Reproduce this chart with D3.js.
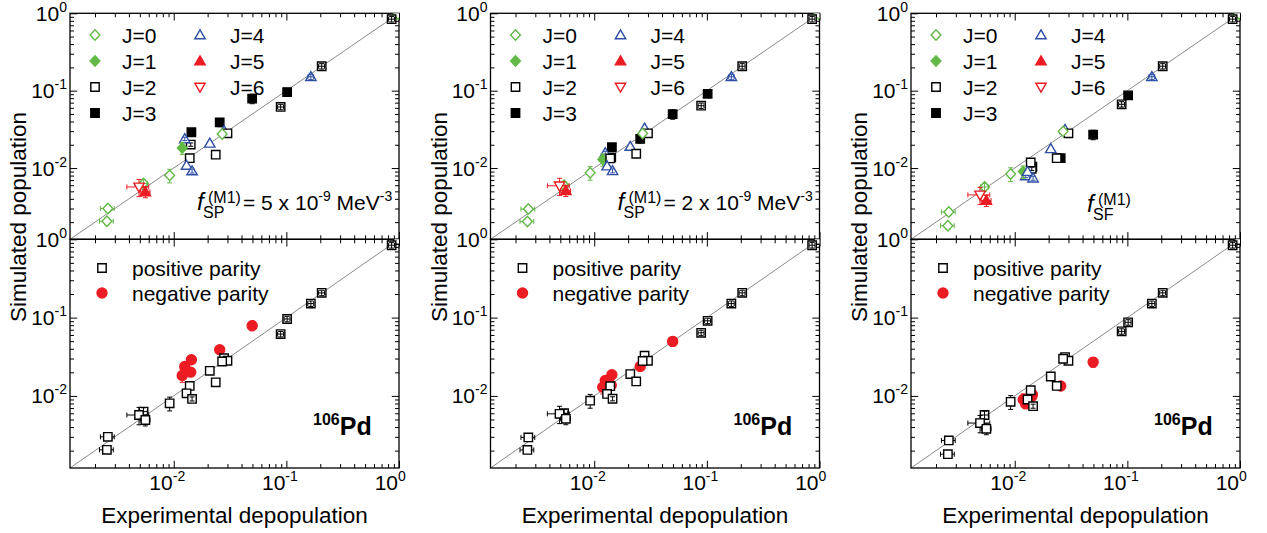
<!DOCTYPE html>
<html>
<head>
<meta charset="utf-8">
<script src="https://cdn.jsdelivr.net/npm/d3@7"></script>
<style>
  body { margin: 0; background: #fff; }
  text { font-family: 'Liberation Sans', Arial, Helvetica, sans-serif; fill: #000; }
</style>
</head>
<body>
<svg id="chart" width="1267" height="533"></svg>
<script>
// levels of 106Pd: experimental depopulation, spin and parity
var expDepop = [0.98, 0.86, 0.206, 0.165, 0.1016, 0.089, 0.0497, 0.0256, 0.028, 0.030, 0.0269, 0.01435, 0.01416,
  0.01253, 0.0119, 0.01387, 0.0209, 0.0236, 0.0130, 0.01455, 0.0092, 0.0054, 0.00492, 0.0056, 0.0026, 0.00255]
var spins = [0, 2, 2, 4, 3, 2, 3, 3, 4, 2, 0, 3, 2, 4, 1, 2, 4, 2, 4, 4, 0, 0, 6, 5, 0, 0]
var parities = ['+', '+', '+', '+', '+', '+', '-', '-', '+', '+', '+', '-', '-', '-', '-', '+', '+', '+', '+', '+',
  '+', '+', '+', '+', '+', '+']

// simulated population for the three M1 strength functions
var simSP5 = [0.98, 0.84, 0.207, 0.151, 0.096, 0.0616, 0.0789, 0.0389, 0.0303, 0.0281, 0.0275, 0.029, 0.0201,
  0.0238, 0.0182, 0.0134, 0.0209, 0.0149, 0.0108, 0.00916, 0.00804, 0.0063, 0.0057, 0.00492, 0.0030, 0.00205]
var simSP2 = [0.98, 0.84, 0.207, 0.151, 0.091, 0.064, 0.0497, 0.0238, 0.0326, 0.0281, 0.028, 0.0186, 0.0137,
  0.0157, 0.0129, 0.0133, 0.019, 0.0153, 0.0106, 0.0092, 0.0087, 0.006, 0.0059, 0.0051, 0.00295, 0.00204]
var simSF = [0.98, 0.84, 0.207, 0.151, 0.087, 0.0667, 0.027, 0.0134, 0.0313, 0.0281, 0.0298, 0.0104, 0.0098,
  0.0079, 0.009, 0.0118, 0.0177, 0.0134, 0.009, 0.0074, 0.0084, 0.0057, 0.0045, 0.0038, 0.0027, 0.0018]

// relative uncertainties (experiment on x, simulation on y)
var expErr = [0, 0.06, 0.06, 0.06, 0.06, 0.06, 0.07, 0.04, 0, 0, 0, 0.03, 0, 0, 0, 0, 0, 0, 0, 0, 0, 0.08, 0.22,
  0.1, 0.14, 0.14]
var simErr = [0, 0.08, 0.08, 0.08, 0.08, 0.08, 0.14, 0.12, 0, 0, 0, 0.1, 0.05, 0.05, 0.18, 0, 0, 0, 0, 0.06, 0.2,
  0.12, 0.25, 0.16, 0.1, 0.1]

var simSets = [simSP5, simSP2, simSF]
var strengthValues = ['5', '2', null]
var strengthSubs = ['SP', 'SP', 'SF']

var spinLabels = ['J=0', 'J=1', 'J=2', 'J=3', 'J=4', 'J=5', 'J=6']
var parityLabels = ['positive parity', 'negative parity']
var tickExponents = [0, -1, -2]

var green = '#62b946'
var blue = '#2e4fa3'
var red = '#ec1c24'

// marker style for each spin
var spinStyle = {
  0: { shape: 'diamond', color: green, filled: false },
  1: { shape: 'diamond', color: green, filled: true },
  2: { shape: 'square', color: '#000', filled: false },
  3: { shape: 'square', color: '#000', filled: true },
  4: { shape: 'triUp', color: blue, filled: false },
  5: { shape: 'triUp', color: red, filled: true },
  6: { shape: 'triDown', color: red, filled: false }
}
var parityStyle = {
  '+': { shape: 'square', color: '#000', filled: false },
  '-': { shape: 'circle', color: red, filled: true }
}

var lefts = [70, 490.5, 911]
var plotW = 329
var topY = 13.3
var midY = 239.3
var botY = 468
var lo = 0.0012
var half = 4.2

var svg = d3.select('#chart')
var defs = svg.append('defs')

function markerPath (shape) {
  if (shape === 'square') return 'M-4.2,-4.2H4.2V4.2H-4.2Z'
  if (shape === 'diamond') return 'M0,-5.2L4.9,0L0,5.2L-4.9,0Z'
  if (shape === 'triUp') return 'M0,-5.2L5.2,3.8L-5.2,3.8Z'
  if (shape === 'triDown') return 'M0,5.2L5.2,-3.8L-5.2,-3.8Z'
  var r = 5
  return 'M' + (-r) + ',0A' + r + ',' + r + ' 0 1,0 ' + r + ',0A' + r + ',' + r + ' 0 1,0 ' + (-r) + ',0Z'
}

function drawMarker (g, cx, cy, style) {
  g.append('path')
    .attr('d', markerPath(style.shape))
    .attr('transform', 'translate(' + cx + ',' + cy + ')')
    .attr('fill', style.filled ? style.color : '#fff')
    .attr('stroke', style.color)
    .attr('stroke-width', 1.4)
}

function drawFrame (x, y, id) {
  var x0 = x.range()[0]
  var x1 = x.range()[1]
  var y0 = y.range()[0]
  var y1 = y.range()[1]
  var g = svg.append('g')

  defs.append('clipPath').attr('id', id)
    .append('rect').attr('x', x0).attr('y', y1).attr('width', x1 - x0).attr('height', y0 - y1)

  g.append('line')
    .attr('x1', x(lo)).attr('y1', y(lo)).attr('x2', x(1)).attr('y2', y(1))
    .attr('stroke', '#8a8a8a').attr('stroke-width', 1)

  var isMajor = function (v) {
    var l = Math.log10(v)
    return Math.abs(l - Math.round(l)) < 1e-6
  }
  var xt = x.ticks().filter(function (v) { return v >= lo })
  var yt = y.ticks().filter(function (v) { return v >= lo })
  var axes = [
    [d3.axisBottom(x).tickValues(xt), 'translate(0,' + y0 + ')', 'y2'],
    [d3.axisTop(x).tickValues(xt), 'translate(0,' + y1 + ')', 'y2'],
    [d3.axisLeft(y).tickValues(yt), 'translate(' + x0 + ',0)', 'x2'],
    [d3.axisRight(y).tickValues(yt), 'translate(' + x1 + ',0)', 'x2']
  ]
  axes.forEach(function (a) {
    var ag = g.append('g').attr('transform', a[1])
      .call(a[0].tickSize(-4).tickFormat(''))
    ag.select('.domain').remove()
    ag.selectAll('.tick line')
      .attr('stroke-width', 1)
      .filter(function (d) { return isMajor(d) })
      .attr(a[2], function () { return +this.getAttribute(a[2]) * 1.8 })
  })

  g.append('rect')
    .attr('x', x0).attr('y', y1).attr('width', x1 - x0).attr('height', y0 - y1)
    .attr('fill', 'none').attr('stroke', '#000').attr('stroke-width', 1.3)
  return g
}

function drawBars (g, x, y, i, s, color) {
  var e = expDepop[i]
  var cx = x(e)
  var cy = y(s)
  var bars = g.append('g').attr('stroke', color).attr('stroke-width', 1)
  if (expErr[i] > 0) {
    var xa = x(e * (1 - expErr[i]))
    var xb = x(e * (1 + expErr[i]))
    bars.append('line').attr('x1', xa).attr('x2', xb).attr('y1', cy).attr('y2', cy)
    bars.append('line').attr('x1', xa).attr('x2', xa).attr('y1', cy - 2.5).attr('y2', cy + 2.5)
    bars.append('line').attr('x1', xb).attr('x2', xb).attr('y1', cy - 2.5).attr('y2', cy + 2.5)
  }
  if (simErr[i] > 0) {
    var ya = y(s * (1 + simErr[i]))
    var yb = y(s * (1 - simErr[i]))
    bars.append('line').attr('x1', cx).attr('x2', cx).attr('y1', ya).attr('y2', yb)
    bars.append('line').attr('x1', cx - 2.5).attr('x2', cx + 2.5).attr('y1', ya).attr('y2', ya)
    bars.append('line').attr('x1', cx - 2.5).attr('x2', cx + 2.5).attr('y1', yb).attr('y2', yb)
  }
}

function drawPoints (x, y, sim, styleOf, id) {
  var g = svg.append('g').attr('clip-path', 'url(#' + id + ')')
  expDepop.forEach(function (e, i) {
    var s = sim[i]
    var st = styleOf(i)
    // bars that stay inside the marker show on top of it, longer ones sit behind
    var hx = x(e * (1 + expErr[i])) - x(e)
    var hy = y(s) - y(s * (1 + simErr[i]))
    var inside = Math.max(hx, hy) < half
    if (!inside) drawBars(g, x, y, i, s, st.color)
    drawMarker(g, x(e), y(s), st)
    if (inside) drawBars(g, x, y, i, s, st.color)
  })
}

function yTickLabels (left, y) {
  tickExponents.forEach(function (p) {
    var t = svg.append('text')
      .attr('x', left - 3).attr('y', y(Math.pow(10, p)) + 7.5)
      .attr('text-anchor', 'end').attr('font-size', 21)
    t.append('tspan').text('10')
    t.append('tspan').attr('dy', -9).attr('font-size', 14).text(String(p))
  })
}

function xTickLabels (x) {
  tickExponents.forEach(function (p) {
    var tx = x(Math.pow(10, p))
    svg.append('text').attr('x', tx - 1).attr('y', 490)
      .attr('text-anchor', 'end').attr('font-size', 21).text('10')
    svg.append('text').attr('x', tx - 1).attr('y', 481)
      .attr('font-size', 14).text(String(p))
  })
}

lefts.forEach(function (left, k) {
  var x = d3.scaleLog().domain([lo, 1]).range([left, left + plotW])
  var yTop = d3.scaleLog().domain([lo, 1]).range([midY, topY])
  var yBot = d3.scaleLog().domain([lo, 1]).range([botY, midY])
  var sim = simSets[k]

  drawFrame(x, yTop, 'clipTop' + k)
  drawFrame(x, yBot, 'clipBot' + k)
  drawPoints(x, yTop, sim, function (i) { return spinStyle[spins[i]] }, 'clipTop' + k)
  drawPoints(x, yBot, sim, function (i) { return parityStyle[parities[i]] }, 'clipBot' + k)

  yTickLabels(left, yTop)
  yTickLabels(left, yBot)
  xTickLabels(x)

  // axis titles
  svg.append('text')
    .attr('transform', 'translate(' + (left - 44) + ',217) rotate(-90)')
    .attr('text-anchor', 'middle').attr('font-size', 22.5).text('Simulated population')
  svg.append('text')
    .attr('x', left + plotW / 2).attr('y', 523)
    .attr('text-anchor', 'middle').attr('font-size', 22.5).text('Experimental depopulation')

  // spin legend
  spinLabels.forEach(function (lab, j) {
    var col = j < 4 ? 0 : 1
    var row = j < 4 ? j : j - 4
    var ly = 35 + row * 26
    drawMarker(svg, left + 25 + col * 105, ly, spinStyle[j])
    svg.append('text').attr('x', left + 52 + col * 108).attr('y', ly + 7.5)
      .attr('font-size', 21).text(lab)
  })

  // parity legend
  parityLabels.forEach(function (lab, j) {
    var ly = 268 + j * 25
    drawMarker(svg, left + 32, ly, parityStyle[j === 0 ? '+' : '-'])
    svg.append('text').attr('x', left + 62).attr('y', ly + 7.5)
      .attr('font-size', 21).text(lab)
  })

  // nucleus label
  var nuc = svg.append('text').attr('x', left + 243).attr('y', 435).attr('font-weight', 'bold')
  nuc.append('tspan').attr('font-size', 16).attr('dy', -10).text('106')
  nuc.append('tspan').attr('font-size', 25).attr('dy', 10).text('Pd')

  // strength function annotation
  var fx = strengthValues[k] ? left + 127 : left + 176
  var fy = strengthValues[k] ? 210 : 212
  svg.append('text').attr('x', fx).attr('y', fy)
    .attr('font-size', 24).attr('font-style', 'italic').text('f')
  svg.append('text').attr('x', fx + 11).attr('y', fy - 7)
    .attr('font-size', 16).text('(M1)')
  svg.append('text').attr('x', fx + 6).attr('y', fy + 8)
    .attr('font-size', 16).text(strengthSubs[k])
  if (strengthValues[k]) {
    var t = svg.append('text').attr('x', left + 173).attr('y', 210).attr('font-size', 21)
    t.append('tspan').text('= ' + strengthValues[k] + ' x 10')
    t.append('tspan').attr('font-size', 14).attr('dy', -9).text('-9')
    t.append('tspan').attr('dy', 9).text(' MeV')
    t.append('tspan').attr('font-size', 14).attr('dy', -9).text('-3')
  }
})
</script>
</body>
</html>
